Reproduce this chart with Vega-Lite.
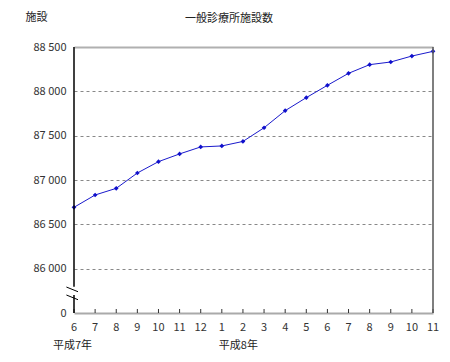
{
  "$schema": "https://vega.github.io/schema/vega-lite/v6.json",
  "width": 359,
  "height": 266,
  "autosize": "none",
  "padding": {"left": 74, "top": 47, "right": 17, "bottom": 49},
  "background": "white",
  "config": {
    "view": {"stroke": null},
    "font": "Noto Sans CJK JP",
    "axis": {"labelFont": "Noto Sans CJK JP", "labelFontSize": 11, "labelColor": "#333333", "titleFont": "Noto Sans CJK JP"}
  },
  "title": {
    "text": "一般診療所施設数",
    "anchor": "start",
    "dx": 160,
    "offset": -13,
    "fontSize": 11,
    "fontWeight": "normal",
    "font": "Noto Sans CJK JP",
    "color": "#222222"
  },
  "data": {
    "values": [
      {"i": 0, "month": "6", "v": 86692},
      {"i": 1, "month": "7", "v": 86831},
      {"i": 2, "month": "8", "v": 86906},
      {"i": 3, "month": "9", "v": 87079},
      {"i": 4, "month": "10", "v": 87207},
      {"i": 5, "month": "11", "v": 87294},
      {"i": 6, "month": "12", "v": 87373},
      {"i": 7, "month": "1", "v": 87384},
      {"i": 8, "month": "2", "v": 87435},
      {"i": 9, "month": "3", "v": 87589},
      {"i": 10, "month": "4", "v": 87782},
      {"i": 11, "month": "5", "v": 87929},
      {"i": 12, "month": "6", "v": 88068},
      {"i": 13, "month": "7", "v": 88203},
      {"i": 14, "month": "8", "v": 88301},
      {"i": 15, "month": "9", "v": 88331},
      {"i": 16, "month": "10", "v": 88398},
      {"i": 17, "month": "11", "v": 88451}
    ]
  },
  "layer": [
    {
      "mark": {"type": "line", "color": "#1a1acc", "strokeWidth": 1},
      "encoding": {
        "x": {
          "field": "i",
          "type": "quantitative",
          "scale": {"domain": [0, 17], "nice": false, "zero": false, "padding": 0},
          "axis": {
            "title": null,
            "labels": false,
            "ticks": false,
            "grid": false,
            "domainColor": "#aaaaaa",
            "domainWidth": 2
          }
        },
        "y": {
          "field": "v",
          "type": "quantitative",
          "scale": {"domain": [85500, 88500], "nice": false, "zero": false},
          "axis": {
            "title": "施設",
            "titleAngle": 0,
            "titleX": -49,
            "titleY": -30,
            "titleAlign": "left",
            "titleBaseline": "middle",
            "titleFontWeight": "normal",
            "titleFontSize": 11,
            "titleColor": "#222222",
            "values": [85500, 86000, 86500, 87000, 87500, 88000, 88500],
            "labelExpr": "datum.value == 85500 ? '0' : replace(format(datum.value, ','), ',', ' ')",
            "domain": false,
            "ticks": false,
            "labelPadding": 8,
            "grid": true,
            "gridColor": {"condition": {"test": "datum.value == 88500", "value": "#b0b0b0"}, "value": "#888888"},
            "gridDash": {"condition": {"test": "datum.value == 88500", "value": []}, "value": [3, 3]},
            "gridWidth": {"condition": {"test": "datum.value == 88500", "value": 2}, "value": 1},
            "gridOpacity": {"condition": {"test": "datum.value == 85500", "value": 0}, "value": 1}
          }
        }
      }
    },
    {
      "mark": {"type": "point", "shape": "diamond", "filled": true, "size": 22, "color": "#1010cc", "opacity": 1},
      "encoding": {
        "x": {"field": "i", "type": "quantitative"},
        "y": {"field": "v", "type": "quantitative"}
      }
    },
    {
      "mark": {"type": "rule", "color": "#333333", "strokeWidth": 1},
      "encoding": {
        "x": {"field": "i", "type": "quantitative"},
        "y": {"datum": 85500, "type": "quantitative"},
        "y2": {"datum": 85545}
      }
    },
    {
      "mark": {"type": "text", "align": "center", "baseline": "middle", "fontSize": 11, "color": "#333333", "font": "Noto Sans CJK JP"},
      "encoding": {
        "x": {"field": "i", "type": "quantitative"},
        "y": {"datum": 85330, "type": "quantitative"},
        "text": {"field": "month"}
      }
    },
    {
      "data": {"values": [{}]},
      "mark": {"type": "rule", "color": "#000000", "strokeWidth": 1.5},
      "encoding": {
        "x": {"datum": 0, "type": "quantitative"},
        "y": {"datum": 88500, "type": "quantitative"},
        "y2": {"datum": 85797}
      }
    },
    {
      "data": {"values": [{}]},
      "mark": {"type": "rule", "color": "#000000", "strokeWidth": 1.5},
      "encoding": {
        "x": {"datum": 0, "type": "quantitative"},
        "y": {"datum": 85703, "type": "quantitative"},
        "y2": {"datum": 85500}
      }
    },
    {
      "data": {"values": [{}]},
      "mark": {"type": "rule", "color": "#000000", "strokeWidth": 1},
      "encoding": {
        "x": {"datum": -0.36, "type": "quantitative"},
        "x2": {"datum": 0.19},
        "y": {"datum": 85793, "type": "quantitative"},
        "y2": {"datum": 85740}
      }
    },
    {
      "data": {"values": [{}]},
      "mark": {"type": "rule", "color": "#000000", "strokeWidth": 1},
      "encoding": {
        "x": {"datum": -0.36, "type": "quantitative"},
        "x2": {"datum": 0.19},
        "y": {"datum": 85703, "type": "quantitative"},
        "y2": {"datum": 85650}
      }
    },
    {
      "data": {"values": [{}]},
      "mark": {"type": "rule", "color": "#555555", "strokeWidth": 1.5},
      "encoding": {
        "x": {"datum": 17, "type": "quantitative"},
        "y": {"datum": 88500, "type": "quantitative"},
        "y2": {"datum": 85500}
      }
    },
    {
      "data": {"values": [{"t": "平成7年"}]},
      "mark": {"type": "text", "align": "left", "baseline": "middle", "dx": -21, "fontSize": 11, "color": "#222222", "font": "Noto Sans CJK JP"},
      "encoding": {
        "x": {"datum": 0, "type": "quantitative"},
        "y": {"datum": 85127, "type": "quantitative"},
        "text": {"field": "t"}
      }
    },
    {
      "data": {"values": [{"t": "平成8年"}]},
      "mark": {"type": "text", "align": "left", "baseline": "middle", "dx": -3, "fontSize": 11, "color": "#222222", "font": "Noto Sans CJK JP"},
      "encoding": {
        "x": {"datum": 7, "type": "quantitative"},
        "y": {"datum": 85127, "type": "quantitative"},
        "text": {"field": "t"}
      }
    }
  ]
}
